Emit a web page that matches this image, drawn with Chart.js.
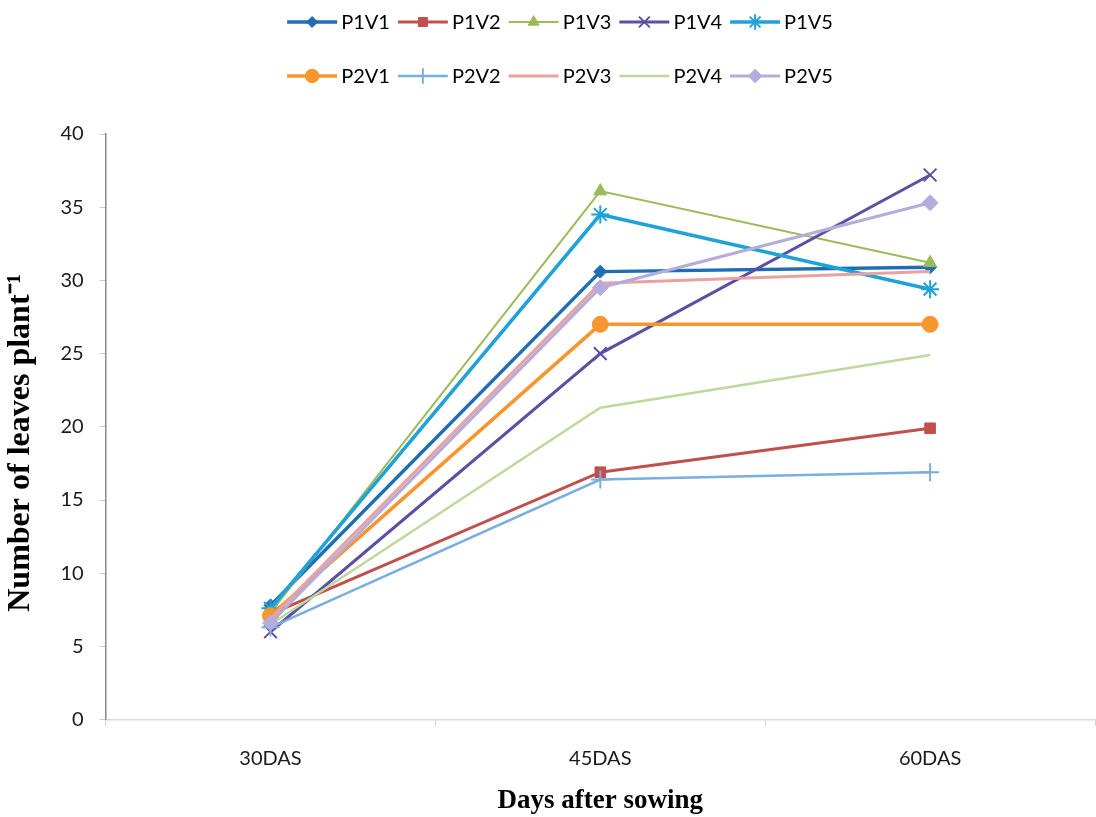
<!DOCTYPE html>
<html>
<head>
<meta charset="utf-8">
<script src="https://cdn.jsdelivr.net/npm/chart.js@4/dist/chart.umd.min.js"></script>
<style>
  html, body { margin: 0; padding: 0; background: #ffffff; }
  #wrap { width: 1096px; height: 817px; }
</style>
</head>
<body>
<div id="wrap"><canvas id="c" width="1096" height="817"></canvas></div>
<script>
// Sampling dates
const categories = ['30DAS', '45DAS', '60DAS'];

// Number of leaves per plant for each treatment
const P1V1 = [7.8, 30.6, 30.9];
const P1V2 = [7.2, 16.9, 19.9];
const P1V3 = [7.3, 36.1, 31.2];
const P1V4 = [6.0, 25.0, 37.2];
const P1V5 = [7.6, 34.5, 29.4];
const P2V1 = [7.1, 27.0, 27.0];
const P2V2 = [6.3, 16.4, 16.9];
const P2V3 = [6.9, 29.8, 30.6];
const P2V4 = [6.5, 21.3, 24.9];
const P2V5 = [6.6, 29.5, 35.3];

// Y-axis tick values
const yTicks = [0, 5, 10, 15, 20, 25, 30, 35, 40];

const seriesNames = ['P1V1', 'P1V2', 'P1V3', 'P1V4', 'P1V5', 'P2V1', 'P2V2', 'P2V3', 'P2V4', 'P2V5'];
const seriesValues = [P1V1, P1V2, P1V3, P1V4, P1V5, P2V1, P2V2, P2V3, P2V4, P2V5];

const seriesStyle = [
  { color: '#1f6eb4', width: 3.5, point: 'rectRot',  radius: 6.5, pbw: 1 },
  { color: '#c0504d', width: 3,   point: 'rect',     radius: 7.5, pbw: 1 },
  { color: '#9bbb59', width: 2,   point: 'triangle', radius: 7.5, pbw: 1 },
  { color: '#5e4fa2', width: 3,   point: 'crossRot', radius: 9,   pbw: 2 },
  { color: '#1fa2d8', width: 3.5, point: 'star',     radius: 9,   pbw: 2 },
  { color: '#f7962f', width: 3.5, point: 'circle',   radius: 8,   pbw: 1 },
  { color: '#7aaee0', width: 2.5, point: 'cross',    radius: 9,   pbw: 2 },
  { color: '#e8a3a0', width: 3,   point: false,      radius: 0,   pbw: 0 },
  { color: '#bfd89c', width: 2.5, point: false,      radius: 0,   pbw: 0 },
  { color: '#b3acdc', width: 3,   point: 'rectRot',  radius: 8,   pbw: 1 }
];

const datasets = seriesNames.map((name, i) => {
  const s = seriesStyle[i];
  return {
    label: name,
    data: seriesValues[i],
    borderColor: s.color,
    backgroundColor: s.color,
    borderWidth: s.width,
    pointStyle: s.point,
    pointRadius: s.radius,
    pointHoverRadius: s.radius,
    pointBackgroundColor: s.color,
    pointBorderColor: s.color,
    pointBorderWidth: s.pbw,
    tension: 0,
    fill: false,
    order: seriesNames.length - i
  };
});

// Two-row legend drawn above the plot area
const twoRowLegend = {
  id: 'twoRowLegend',
  afterDraw(chart, args, opts) {
    const ctx = chart.ctx;
    const ds = chart.data.datasets;
    const rows = [ds.slice(0, 5), ds.slice(5, 10)];
    ctx.save();
    ctx.font = opts.font;
    ctx.textBaseline = 'middle';
    ctx.textAlign = 'left';
    rows.forEach((row, r) => {
      const widths = row.map(d => opts.lineLen + opts.gap + ctx.measureText(d.label).width);
      const total = widths.reduce((a, b) => a + b, 0) + opts.spacing * (row.length - 1);
      let x = opts.centerX - total / 2;
      const y = opts.rowY[r];
      row.forEach((d, i) => {
        ctx.strokeStyle = d.borderColor;
        ctx.lineWidth = d.borderWidth;
        ctx.beginPath();
        ctx.moveTo(x, y);
        ctx.lineTo(x + opts.lineLen, y);
        ctx.stroke();
        if (d.pointStyle && Chart.helpers && Chart.helpers.drawPoint) {
          ctx.fillStyle = d.pointBackgroundColor;
          ctx.strokeStyle = d.pointBorderColor;
          ctx.lineWidth = d.pointBorderWidth;
          Chart.helpers.drawPoint(ctx, {
            pointStyle: d.pointStyle,
            radius: d.pointRadius * 0.85,
            borderWidth: d.pointBorderWidth,
            rotation: 0
          }, x + opts.lineLen / 2, y);
        }
        ctx.fillStyle = opts.color;
        ctx.fillText(d.label, x + opts.lineLen + opts.gap, y + 1);
        x += widths[i] + opts.spacing;
      });
    });
    ctx.restore();
  }
};

new Chart(document.getElementById('c'), {
  type: 'line',
  data: { labels: categories, datasets: datasets },
  plugins: [twoRowLegend],
  options: {
    responsive: false,
    animation: false,
    events: [],
    layout: { autoPadding: false, padding: { top: 134, left: 2, right: 1, bottom: 0 } },
    plugins: {
      legend: { display: false },
      tooltip: { enabled: false },
      twoRowLegend: {
        font: '20px Lato',
        color: '#000000',
        lineLen: 50,
        gap: 4,
        spacing: 8,
        centerX: 560,
        rowY: [22, 76]
      }
    },
    scales: {
      x: {
        type: 'category',
        offset: true,
        afterFit(scale) {
          // category labels sit well inside their bands; no side padding needed
          scale.paddingLeft = 0;
          scale.paddingRight = 0;
        },
        grid: {
          offset: true,
          drawOnChartArea: false,
          drawTicks: true,
          tickLength: 6,
          color: '#d0d0d0'
        },
        border: { display: true, color: '#d9d9d9', width: 1.5 },
        ticks: {
          color: '#1a1a1a',
          font: { family: 'Lato', size: 20 },
          padding: 21
        },
        title: {
          display: true,
          text: 'Days after sowing',
          color: '#000000',
          font: { family: 'Liberation Serif', size: 27, weight: 'bold' },
          padding: { top: -7, bottom: 0 }
        }
      },
      y: {
        min: 0,
        max: 40,
        afterBuildTicks(scale) {
          scale.ticks = yTicks.map(v => ({ value: v }));
        },
        grid: {
          drawOnChartArea: false,
          drawTicks: true,
          tickLength: 6,
          color: '#c8c8c8'
        },
        border: { display: true, color: '#8a8a8a', width: 1.5 },
        ticks: {
          color: '#1a1a1a',
          font: { family: 'Lato', size: 20 },
          padding: 16
        },
        title: {
          display: true,
          text: 'Number of leaves plant\u207B\u00B9    ',
          color: '#000000',
          font: { family: 'Liberation Serif', size: 32, weight: 'bold' },
          padding: { top: 0, bottom: 4 }
        }
      }
    }
  }
});
</script>
</body>
</html>
